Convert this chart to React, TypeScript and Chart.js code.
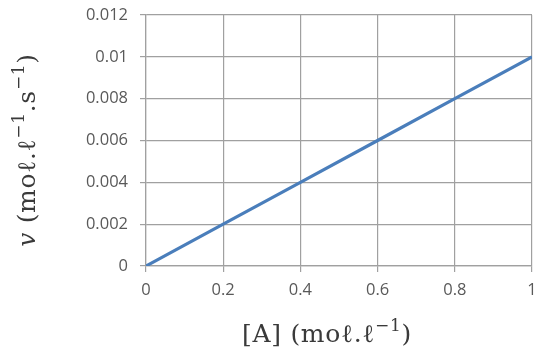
import React, { useEffect, useRef } from "react";
import { Chart, registerables } from "chart.js";

Chart.register(...registerables);

const concentrations = [0, 0.2, 0.4, 0.6, 0.8, 1];
const rates = [0, 0.002, 0.004, 0.006, 0.008, 0.01];
const xTickLabels = ["0", "0.2", "0.4", "0.6", "0.8", "1"];
const yTickLabels = ["0", "0.002", "0.004", "0.006", "0.008", "0.01", "0.012"];

type Part = { text: string; italic?: boolean; sup?: boolean };

const yTitle: Part[] = [
  { text: "v", italic: true },
  { text: " (moℓ.ℓ" },
  { text: "−1", sup: true },
  { text: ".s" },
  { text: "−1", sup: true },
  { text: ")" },
];
const xTitle: Part[] = [
  { text: "[A] (moℓ.ℓ" },
  { text: "−1", sup: true },
  { text: ")" },
];

const SERIF = "'DejaVu Serif', 'Liberation Serif', serif";
const TITLE_SIZE = 25;
const SPACING = 0.7;

function fontFor(p: Part) {
  const size = p.sup ? Math.round(TITLE_SIZE * 0.68) : TITLE_SIZE;
  return `${p.italic ? "italic " : ""}${size}px ${SERIF}`;
}

function drawRich(ctx: CanvasRenderingContext2D, parts: Part[], cx: number, cy: number, rotate: boolean) {
  ctx.save();
  ctx.translate(cx, cy);
  if (rotate) ctx.rotate(-Math.PI / 2);
  (ctx as any).letterSpacing = `${SPACING}px`;
  let total = 0;
  for (const p of parts) {
    ctx.font = fontFor(p);
    total += ctx.measureText(p.text).width;
  }
  let x = -total / 2;
  ctx.fillStyle = "#3a3a3a";
  ctx.textBaseline = "middle";
  ctx.textAlign = "left";
  for (const p of parts) {
    ctx.font = fontFor(p);
    ctx.fillText(p.text, x, p.sup ? -8 : 0);
    x += ctx.measureText(p.text).width;
  }
  ctx.restore();
}

const titlePlugin = {
  id: "richTitles",
  afterDraw(chart: any) {
    const ctx = chart.ctx as CanvasRenderingContext2D;
    drawRich(ctx, xTitle, 327, 335, false);
    drawRich(ctx, yTitle, 28, 150, true);
  },
};

export default function App() {
  const ref = useRef<HTMLCanvasElement>(null);
  useEffect(() => {
    if (!ref.current) return;
    const tickFont = { family: "'Open Sans', 'Liberation Sans', sans-serif", size: 16.5 };
    const grid = { color: "#a0a0a0", lineWidth: 1.2, tickLength: 6, drawTicks: true };
    const chart = new Chart(ref.current, {
      type: "line",
      data: {
        datasets: [
          {
            data: concentrations.map((c, i) => ({ x: c, y: rates[i] })),
            borderColor: "#4a7ebb",
            borderWidth: 3.2,
            pointRadius: 0,
            fill: false,
            tension: 0,
          },
        ],
      },
      options: {
        animation: false,
        responsive: false,
        maintainAspectRatio: false,
        layout: { padding: { top: 15, right: 4, left: 0, bottom: 0 } },
        plugins: { legend: { display: false }, tooltip: { enabled: false }, title: { display: false } },
        scales: {
          x: {
            type: "linear",
            min: 0,
            max: 1,
            ticks: {
              stepSize: 0.2,
              color: "#595959",
              font: tickFont,
              padding: 8,
              maxRotation: 0,
              callback: (_v: any, i: number) => xTickLabels[i],
            },
            grid,
            border: { color: "#a0a0a0", width: 1.2 },
            afterFit: (s: any) => {
              s.height = 90;
              s.paddingLeft = 0;
              s.paddingRight = 0;
            },
          },
          y: {
            type: "linear",
            min: 0,
            max: 0.012,
            ticks: {
              stepSize: 0.002,
              color: "#595959",
              font: tickFont,
              padding: 12,
              callback: (_v: any, i: number) => yTickLabels[i],
            },
            grid,
            border: { color: "#a0a0a0", width: 1.2 },
            afterFit: (s: any) => {
              s.width = 146;
              s.paddingTop = 0;
              s.paddingBottom = 0;
            },
          },
        },
      },
      plugins: [titlePlugin],
    } as any);
    return () => chart.destroy();
  }, []);
  return (
    <div style={{ position: "fixed", left: 0, top: 0, width: 536, height: 356, background: "#fff" }}>
      <canvas ref={ref} width={536} height={356} style={{ width: 536, height: 356 }} />
    </div>
  );
}
